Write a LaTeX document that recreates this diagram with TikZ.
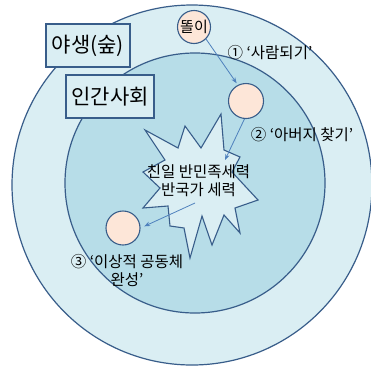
\documentclass[tikz,border=0pt]{standalone}
\usepackage{fontspec}
\setmainfont{Noto Sans CJK KR}
\usetikzlibrary{arrows.meta}
\definecolor{outerfill}{HTML}{DAEEF3}
\definecolor{innerfill}{HTML}{B7DDE8}
\definecolor{edge}{HTML}{385D8A}
\definecolor{peach}{HTML}{FDE6D8}
\definecolor{arrowc}{HTML}{4F81BD}
\tikzset{
  ring/.style={draw=edge,line width=1.2pt},
  labelbox/.style={draw=edge,line width=1.2pt,fill=outerfill,minimum height=43pt,inner sep=0pt,font=\fontsize{21}{24}\selectfont},
  person/.style={circle,draw=edge,line width=1.1pt,fill=peach,inner sep=0pt},
  flow/.style={draw=arrowc,line width=0.8pt,-{Stealth[length=6pt,width=4.5pt]}},
  caption/.style={font=\fontsize{15.5}{18}\selectfont,inner sep=0pt,align=center}
}
\begin{document}
\begin{tikzpicture}[x=1pt,y=-1pt]
\useasboundingbox (0,0) rectangle (371,370);
\fill[white] (0,0) rectangle (371,370);
\draw[ring,fill=outerfill] (192,185) circle[radius=180];
\draw[ring,fill=innerfill] (195,183) circle[radius=130];
\node[labelbox,minimum width=84pt] (wild) at (88,45.5) {야생(숲)};
\node[labelbox,minimum width=88pt] (human) at (110,96.5) {인간사회};
% star
\draw[line width=1.1pt,draw=edge,fill=outerfill,line join=miter]
  (145,130) -- (178,148) -- (185,126) -- (201,148) -- (221,114) -- (224,150)
  -- (240,157) -- (232,172) -- (258,200) -- (235,208) -- (240,233) -- (224,215)
  -- (212,245) -- (202,216) -- (190,258) -- (184,228) -- (170,226) -- (168,206)
  -- (143,208) -- (160,188) -- (143,172) -- (165,160) -- cycle;
\node[caption] (force) at (198.5,181) {친일 반민족세력\\반국가 세력};
\node[person,minimum size=33pt,font=\fontsize{15}{16}\selectfont] (c1) at (194,27) {똘이};
\node[person,minimum size=35pt] (c2) at (246,101) {};
\node[person,minimum size=34pt] (c3) at (123,228) {};
\coordinate (t2) at (225,160);
\coordinate (s3) at (195,203);
\draw[flow,shorten >=2pt] (c1.-45) -- (c2.117);
\draw[flow] (c2.-95) -- (t2);
\draw[flow,shorten >=4pt] (s3) -- (c3.east);
\node[caption] (l1) at (270,53) {① ‘사람되기’};
\node[caption] (l2) at (302,135) {② ‘아버지 찾기’};
\node[caption] (l3) at (127,271) {③ ‘이상적 공동체\\완성’};
\end{tikzpicture}
\end{document}
